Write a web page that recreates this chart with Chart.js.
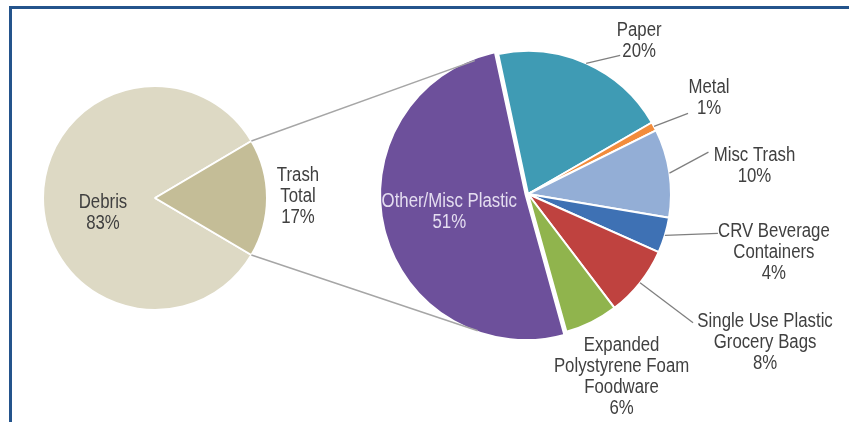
<!DOCTYPE html>
<html>
<head>
<meta charset="utf-8">
<script src="https://cdn.jsdelivr.net/npm/chart.js@4"></script>
<style>
  body { margin: 0; background: #fff; }
  #wrap { position: relative; width: 849px; height: 422px; overflow: hidden; background: #fff; }
  #wrap canvas { position: absolute; left: 0; top: 0; }
  #frame {
    position: absolute; left: 9px; top: 6px; right: -10px; bottom: -10px;
    border-top: 3px solid #24548c; border-left: 3px solid #24548c;
  }
</style>
</head>
<body>
<div id="wrap">
  <div id="frame"></div>
  <canvas id="mainPie" width="849" height="422"></canvas>
  <canvas id="trashPie" width="849" height="422"></canvas>
</div>
<script>
// Debris vs trash split
const outerLabels = [['Debris'], ['Trash', 'Total']];
const outerValues = [83, 17];
const outerColors = ['#ddd9c4', '#c4bd97'];

// Breakdown of the trash wedge
const trashLabels = [
  ['Paper'],
  ['Metal'],
  ['Misc Trash'],
  ['CRV Beverage', 'Containers'],
  ['Single Use Plastic', 'Grocery Bags'],
  ['Expanded', 'Polystyrene Foam', 'Foodware'],
  ['Other/Misc Plastic']
];
const trashValues = [20, 1, 10, 4, 8, 6, 51];
const trashColors = ['#3f9bb4', '#f28c3c', '#93aed6', '#3e71b4', '#bf423f', '#90b44d', '#6d509b'];

const LINE_H = 21;

// same translation ArcElement applies for an offset slice
function arcShift(arc) {
  const off = (arc.options.offset || 0) / 4;
  const fix = 1 - Math.sin(Math.min(Math.PI, arc.circumference || 0));
  return off + off * fix;
}

function arcCenter(arc) {
  const mid = (arc.startAngle + arc.endAngle) / 2;
  const s = arcShift(arc);
  return { x: arc.x + Math.cos(mid) * s, y: arc.y + Math.sin(mid) * s, mid };
}

// data labels placed relative to each slice's outer edge
const calloutPlugin = {
  id: 'callouts',
  afterDatasetsDraw(chart, args, opts) {
    const ctx = chart.ctx;
    const meta = chart.getDatasetMeta(0);
    const values = chart.data.datasets[0].data;
    meta.data.forEach((arc, i) => {
      const c = arcCenter(arc);
      const ex = c.x + Math.cos(c.mid) * arc.outerRadius;
      const ey = c.y + Math.sin(c.mid) * arc.outerRadius;

      const lead = opts.leaders[i];
      if (lead) {
        ctx.save();
        ctx.strokeStyle = '#7f7f7f';
        ctx.lineWidth = 1.3;
        ctx.beginPath();
        ctx.moveTo(ex, ey);
        ctx.lineTo(ex + lead[0], ey + lead[1]);
        ctx.stroke();
        ctx.restore();
      }

      const lines = [...chart.data.labels[i], values[i] + '%'];
      const tx = ex + opts.spots[i][0];
      const ty = ey + opts.spots[i][1];
      ctx.save();
      ctx.font = '20px "Liberation Sans", Arial, sans-serif';
      ctx.fillStyle = opts.colors[i];
      ctx.textAlign = 'center';
      ctx.textBaseline = 'middle';
      lines.forEach((line, k) => {
        const y = ty + (k - (lines.length - 1) / 2) * LINE_H;
        ctx.save();
        ctx.translate(tx, y);
        ctx.scale(0.84, 1);
        ctx.fillText(line, 0, 0);
        ctx.restore();
      });
      ctx.restore();
    });
  }
};

// lines from the trash wedge corners, tangent to the second pie
const bridgePlugin = {
  id: 'bridge',
  afterDatasetsDraw(chart) {
    const wedge = mainChart.getDatasetMeta(0).data[1];
    const big = chart.getDatasetMeta(0).data[6];
    const c = arcCenter(big);
    const r = big.outerRadius;
    const ctx = chart.ctx;
    ctx.save();
    ctx.strokeStyle = '#a6a6a6';
    ctx.lineWidth = 1.5;
    [[wedge.startAngle, 1], [wedge.endAngle, -1]].forEach(([a, side]) => {
      const px = wedge.x + Math.cos(a) * wedge.outerRadius;
      const py = wedge.y + Math.sin(a) * wedge.outerRadius;
      const d = Math.hypot(px - c.x, py - c.y);
      const phi = Math.atan2(py - c.y, px - c.x) + side * Math.acos(r / d);
      ctx.beginPath();
      ctx.moveTo(px, py);
      ctx.lineTo(c.x + Math.cos(phi) * r, c.y + Math.sin(phi) * r);
      ctx.stroke();
    });
    ctx.restore();
  }
};

const baseOptions = {
  responsive: false,
  animation: false,
  events: [],
  plugins: { legend: { display: false }, tooltip: { enabled: false } }
};

const mainChart = new Chart(document.getElementById('mainPie'), {
  type: 'pie',
  data: {
    labels: outerLabels,
    datasets: [{ data: outerValues, backgroundColor: outerColors, borderColor: '#fff', borderWidth: 2 }]
  },
  options: {
    ...baseOptions,
    rotation: 120.6,
    radius: 112,
    layout: { padding: { left: 43, right: 582, top: 86, bottom: 112 } },
    plugins: {
      ...baseOptions.plugins,
      callouts: {
        spots: [[60, 15], [31, -2]],
        leaders: [null, null],
        colors: ['#404040', '#404040']
      }
    }
  },
  plugins: [calloutPlugin]
});

const trashChart = new Chart(document.getElementById('trashPie'), {
  type: 'pie',
  data: {
    labels: trashLabels,
    datasets: [{
      data: trashValues,
      backgroundColor: trashColors,
      borderColor: '#fff',
      borderWidth: 2,
      offset: [0, 0, 0, 0, 0, 0, 10]
    }]
  },
  options: {
    ...baseOptions,
    rotation: -12,
    radius: 143,
    layout: { padding: { left: 385, right: 178, top: 51, bottom: 85 } },
    plugins: {
      ...baseOptions.plugins,
      callouts: {
        spots: [[53, -22], [55, -28], [85, -7], [109, 17], [125, 60], [30, 55], [65, -17]],
        leaders: [[34, -8], [34, -13], [39, -21], [53, -2], [53, 40], null, null],
        colors: ['#404040', '#404040', '#404040', '#404040', '#404040', '#404040', '#e4ddf0']
      }
    }
  },
  plugins: [bridgePlugin, calloutPlugin]
});
</script>
</body>
</html>
